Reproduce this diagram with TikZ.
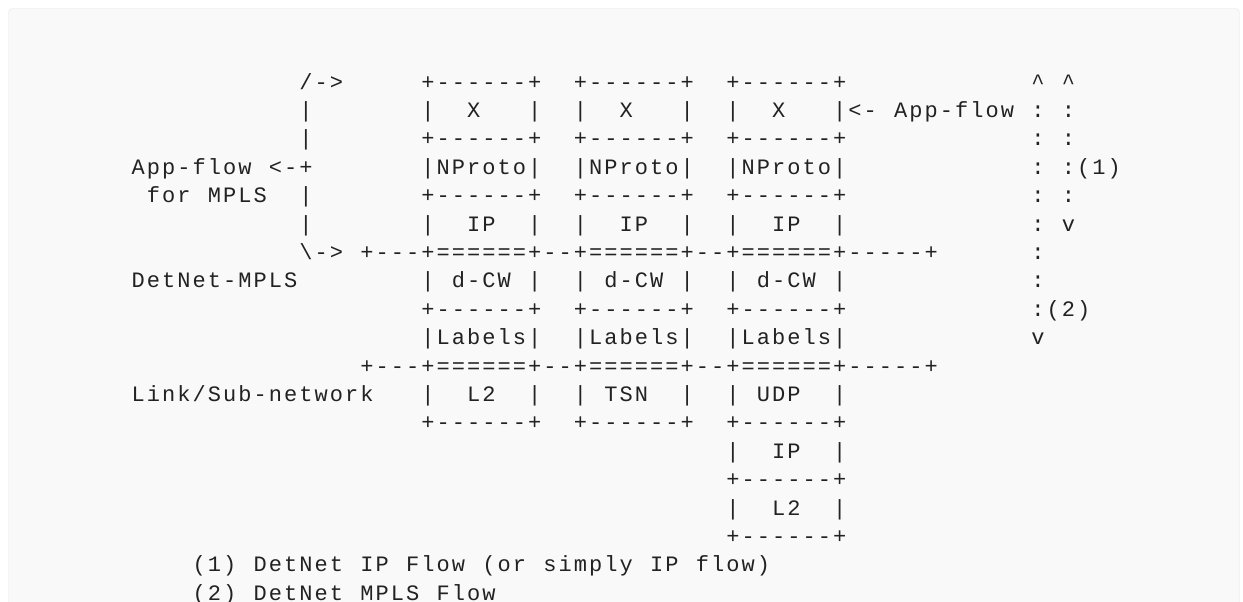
\documentclass[tikz,border=0pt]{standalone}
\usepackage{fontspec}
\usepackage{xcolor}
\usetikzlibrary{positioning}
\newfontfamily\asciifont{Liberation Mono}
\definecolor{pregray}{HTML}{F9F9F9}
\definecolor{preframe}{HTML}{E6E6E6}
\definecolor{inkgray}{HTML}{222222}
\newlength\cellw
\setlength\cellw{15.25pt}
% one fixed cell per character, ~ stands for a blank cell
\ExplSyntaxOn
\NewDocumentCommand \asciirow { m }
  {
    \str_map_inline:nn {#1}
      {
        \str_if_eq:eeTF {##1} { \c_tilde_str }
          { \makebox[\cellw]{} }
          { \makebox[\cellw][c]{##1} }
      }
  }
\ExplSyntaxOff
\tikzset{
  ascii/.style={anchor=base west, inner sep=0pt, outer sep=0pt,
    text=inkgray, font=\asciifont\fontsize{22}{26}\selectfont},
}

\begin{document}
\begin{tikzpicture}[x=1pt,y=-1pt]
  \pgfmathsetmacro{\cw}{15.25}
  \pgfmathsetmacro{\lh}{28.4}
  \pgfmathsetmacro{\xo}{130.6}
  \pgfmathsetmacro{\yo}{60.7}
  \useasboundingbox (0,0) rectangle (1243,602);
  \clip (0,0) rectangle (1243,602);
  \fill[white] (0,0) rectangle (1243,602);
  \draw[preframe, fill=pregray, rounded corners=4pt] (8.5,8.5) rectangle (1239.5,640);

  % protocol stacks
  \node[ascii] (row1) at ({\xo+11*\cw},{\yo+1*\lh}) {\asciirow{/->~~~~~+------+~~+------+~~+------+~~~~~~~~~~~~^~^}};
  \node[ascii] (row2) at ({\xo+11*\cw},{\yo+2*\lh}) {\asciirow{|~~~~~~~|~~X~~~|~~|~~X~~~|~~|~~X~~~|<-~App-flow~:~:}};
  \node[ascii] (row3) at ({\xo+11*\cw},{\yo+3*\lh}) {\asciirow{|~~~~~~~+------+~~+------+~~+------+~~~~~~~~~~~~:~:}};
  \node[ascii] (row4) at ({\xo+0*\cw},{\yo+4*\lh}) {\asciirow{App-flow~<-+~~~~~~~|NProto|~~|NProto|~~|NProto|~~~~~~~~~~~~:~:(1)}};
  \node[ascii] (row5) at ({\xo+1*\cw},{\yo+5*\lh}) {\asciirow{for~MPLS~~|~~~~~~~+------+~~+------+~~+------+~~~~~~~~~~~~:~:}};
  \node[ascii] (row6) at ({\xo+11*\cw},{\yo+6*\lh}) {\asciirow{|~~~~~~~|~~IP~~|~~|~~IP~~|~~|~~IP~~|~~~~~~~~~~~~:~v}};
  \node[ascii] (row7) at ({\xo+11*\cw},{\yo+7*\lh}) {\asciirow{\->~+---+======+--+======+--+======+-----+~~~~~~:}};
  \node[ascii] (row8) at ({\xo+0*\cw},{\yo+8*\lh}) {\asciirow{DetNet-MPLS~~~~~~~~|~d-CW~|~~|~d-CW~|~~|~d-CW~|~~~~~~~~~~~~:}};
  \node[ascii] (row9) at ({\xo+19*\cw},{\yo+9*\lh}) {\asciirow{+------+~~+------+~~+------+~~~~~~~~~~~~:(2)}};
  \node[ascii] (row10) at ({\xo+19*\cw},{\yo+10*\lh}) {\asciirow{|Labels|~~|Labels|~~|Labels|~~~~~~~~~~~~v}};
  \node[ascii] (row11) at ({\xo+15*\cw},{\yo+11*\lh}) {\asciirow{+---+======+--+======+--+======+-----+}};
  \node[ascii] (row12) at ({\xo+0*\cw},{\yo+12*\lh}) {\asciirow{Link/Sub-network~~~|~~L2~~|~~|~TSN~~|~~|~UDP~~|}};
  \node[ascii] (row13) at ({\xo+19*\cw},{\yo+13*\lh}) {\asciirow{+------+~~+------+~~+------+}};
  \node[ascii] (row14) at ({\xo+39*\cw},{\yo+14*\lh}) {\asciirow{|~~IP~~|}};
  \node[ascii] (row15) at ({\xo+39*\cw},{\yo+15*\lh}) {\asciirow{+------+}};
  \node[ascii] (row16) at ({\xo+39*\cw},{\yo+16*\lh}) {\asciirow{|~~L2~~|}};
  \node[ascii] (row17) at ({\xo+39*\cw},{\yo+17*\lh}) {\asciirow{+------+}};

  % notes
  \node[ascii] (note1) at ({\xo+4*\cw},{\yo+18*\lh}) {\asciirow{(1)~DetNet~IP~Flow~(or~simply~IP~flow)}};
  \node[ascii] (note2) at ({\xo+4*\cw},{\yo+19*\lh}) {\asciirow{(2)~DetNet~MPLS~Flow}};
\end{tikzpicture}
\end{document}
